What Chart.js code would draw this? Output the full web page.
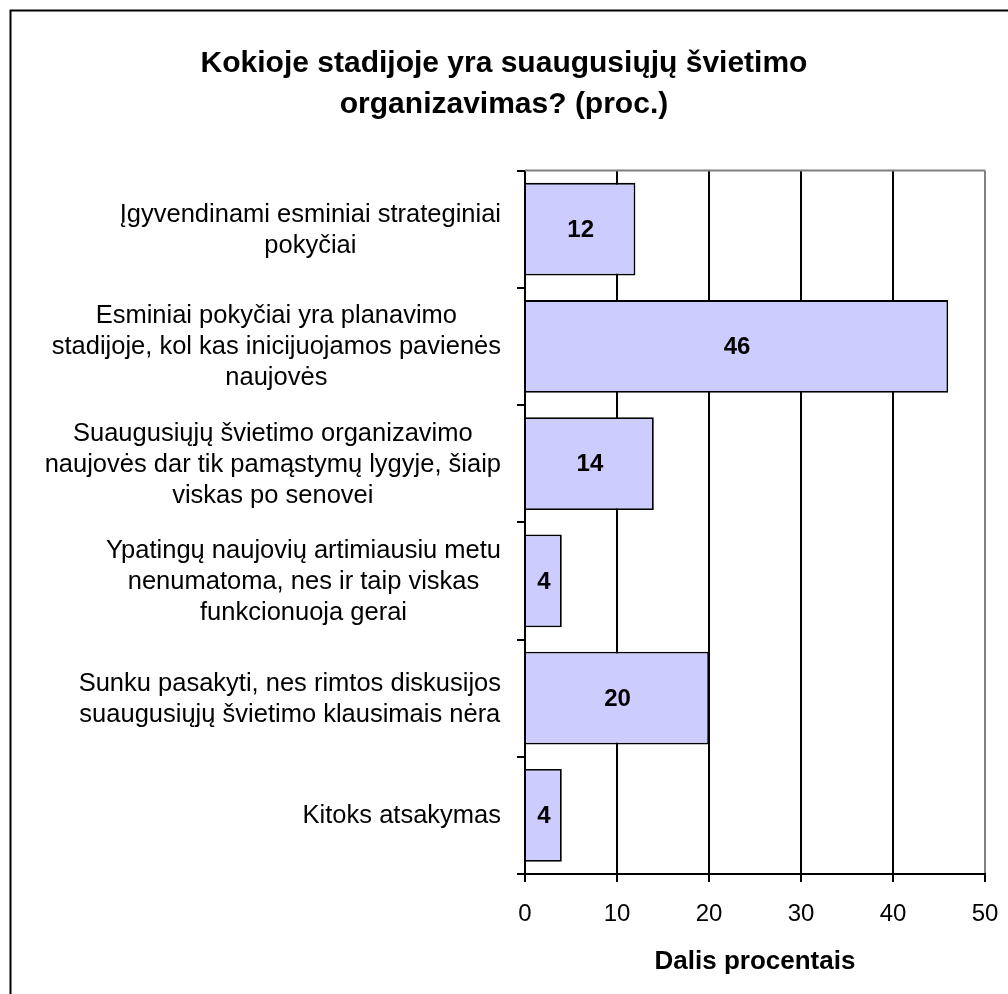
<!DOCTYPE html>
<html>
<head>
<meta charset="utf-8">
<script src="https://cdn.jsdelivr.net/npm/chart.js@4/dist/chart.umd.min.js"></script>
<style>
  html, body { margin: 0; padding: 0; background: #fff; }
  #wrap { width: 1008px; height: 994px; }
</style>
</head>
<body>
<div id="wrap"><canvas id="c" width="1008" height="994"></canvas></div>
<script>
const titleLines = ["Kokioje stadijoje yra suaugusiųjų švietimo", "organizavimas? (proc.)"];
const categories = [
  ["Įgyvendinami esminiai strateginiai", "pokyčiai"],
  ["Esminiai pokyčiai yra planavimo", "stadijoje, kol kas inicijuojamos pavienės", "naujovės"],
  ["Suaugusiųjų švietimo organizavimo", "naujovės dar tik pamąstymų lygyje, šiaip", "viskas po senovei"],
  ["Ypatingų naujovių artimiausiu metu", "nenumatoma, nes ir taip viskas", "funkcionuoja gerai"],
  ["Sunku pasakyti, nes rimtos diskusijos", "suaugusiųjų švietimo klausimais nėra"],
  ["Kitoks atsakymas"]
];
const values = [12, 46, 14, 4, 20, 4];
const xTicks = [0, 10, 20, 30, 40, 50];
const xAxisTitle = "Dalis procentais";

const FONT = "'Liberation Sans', Arial, sans-serif";

const framePlugin = {
  id: 'frame',
  afterDraw(chart) {
    const ctx = chart.ctx;
    ctx.save();
    ctx.strokeStyle = '#000';
    ctx.lineWidth = 2;
    ctx.beginPath();
    ctx.moveTo(10.5, 994);
    ctx.lineTo(10.5, 10.5);
    ctx.lineTo(1008, 10.5);
    ctx.stroke();
    ctx.restore();
  }
};

const plotTopPlugin = {
  id: 'plotTop',
  beforeDatasetsDraw(chart) {
    const ctx = chart.ctx, a = chart.chartArea;
    ctx.save();
    ctx.strokeStyle = '#808080';
    ctx.lineWidth = 2;
    ctx.beginPath();
    ctx.moveTo(a.left, a.top);
    ctx.lineTo(a.right, a.top);
    ctx.stroke();
    ctx.restore();
  }
};

const yLabelPlugin = {
  id: 'yLabels',
  afterDraw(chart) {
    const ctx = chart.ctx, ys = chart.scales.y;
    ctx.save();
    ctx.font = "25.5px " + FONT;
    ctx.fillStyle = '#000';
    ctx.textAlign = 'center';
    ctx.textBaseline = 'middle';
    const rightEdge = ys.right - 24;
    const lh = 31;
    categories.forEach((lines, i) => {
      const y = ys.getPixelForValue(i);
      const w = Math.max(...lines.map(l => ctx.measureText(l).width));
      const cx = rightEdge - w / 2;
      lines.forEach((l, j) => {
        ctx.fillText(l, cx, y + 1 + (j - (lines.length - 1) / 2) * lh);
      });
    });
    ctx.restore();
  }
};

const valueLabelPlugin = {
  id: 'valueLabels',
  afterDatasetsDraw(chart) {
    const ctx = chart.ctx;
    const meta = chart.getDatasetMeta(0);
    ctx.save();
    ctx.font = "bold 24px " + FONT;
    ctx.fillStyle = '#000';
    ctx.textAlign = 'center';
    ctx.textBaseline = 'middle';
    meta.data.forEach((bar, i) => {
      ctx.fillText(String(values[i]), (bar.x + bar.base) / 2, bar.y + 1);
    });
    ctx.restore();
  }
};

new Chart(document.getElementById('c'), {
  type: 'bar',
  data: {
    labels: categories,
    datasets: [{
      data: values,
      backgroundColor: '#CCCCFF',
      borderColor: '#000',
      borderWidth: 1.8,
      barPercentage: 0.79,
      categoryPercentage: 1
    }]
  },
  options: {
    indexAxis: 'y',
    responsive: false,
    animation: false,
    devicePixelRatio: 1,
    layout: { padding: { top: 10, left: 23, right: 23, bottom: 0 } },
    plugins: {
      legend: { display: false },
      tooltip: { enabled: false },
      title: {
        display: true,
        text: titleLines,
        color: '#000',
        font: { family: FONT, size: 30, weight: 'bold', lineHeight: 1.367 },
        padding: { top: 33, bottom: 45.5 }
      }
    },
    scales: {
      x: {
        min: 0,
        max: 50,
        afterFit(scale) { scale.height = 120; scale.paddingLeft = 0; scale.paddingRight = 0; },
        afterBuildTicks(scale) { scale.ticks = xTicks.map(v => ({ value: v })); },
        ticks: {
          color: '#000',
          font: { family: FONT, size: 24 },
          padding: 18,
          maxRotation: 0
        },
        grid: {
          color: (c) => (c.tick && c.tick.value === 50) ? '#808080' : '#000',
          tickColor: '#000',
          lineWidth: 2,
          tickLength: 8,
          drawOnChartArea: true
        },
        border: { color: '#000', width: 2 },
        title: {
          display: true,
          text: xAxisTitle,
          color: '#000',
          font: { family: FONT, size: 26, weight: 'bold' },
          padding: { top: 0, bottom: 17 }
        }
      },
      y: {
        afterFit(scale) { scale.width = 502; },
        offset: true,
        ticks: { display: false },
        grid: {
          offset: true,
          drawOnChartArea: false,
          color: '#000',
          tickColor: '#000',
          lineWidth: 2,
          tickLength: 8
        },
        border: { color: '#000', width: 2 }
      }
    }
  },
  plugins: [plotTopPlugin, valueLabelPlugin, yLabelPlugin, framePlugin]
});
</script>
</body>
</html>
